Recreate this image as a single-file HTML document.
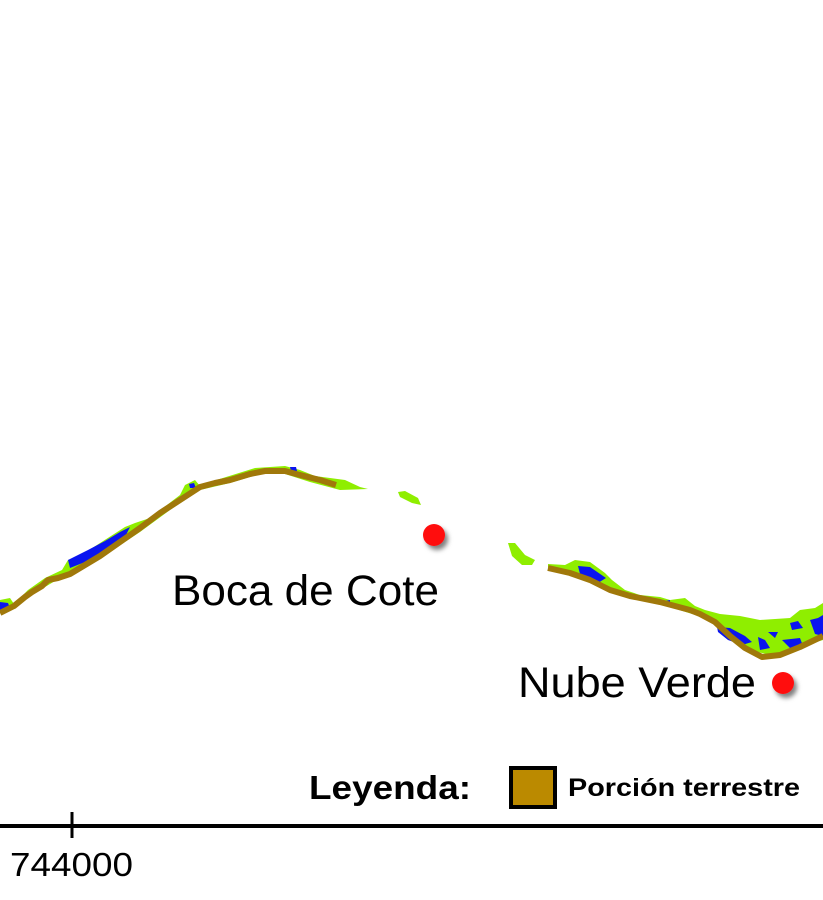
<!DOCTYPE html>
<html><head><meta charset="utf-8"><style>
html,body{margin:0;padding:0;background:#fff;}
svg{display:block;}
text{font-family:"Liberation Sans",sans-serif;}
</style></head><body>
<svg width="823" height="900" viewBox="0 0 823 900">
<defs><filter id="sh" x="-50%" y="-50%" width="200%" height="200%"><feDropShadow dx="3" dy="4" stdDeviation="2.5" flood-color="#000" flood-opacity="0.5"/></filter></defs>
<g>
<path fill="#8fee00" d="M0,600 L10,598 L14,604 L28,590 L45,578 L62,570 L68,560 L80,556 L100,543 L125,527 L135,523 L150,518 L180,495 L185,485 L195,480 L200,486 L210,482 L255,468 L285,466 L300,470 L315,476 L345,480 L360,487 L368,489 L340,490 L310,482 L285,474 L260,474 L230,483 L200,490 L170,510 L140,532 L110,552 L80,570 L60,578 L40,590 L20,600 L0,612 Z"/>
<path fill="#8fee00" d="M398,492 L405,491 L418,498 L421,505 L412,503 L400,497 Z"/>
<path fill="#0a14f0" d="M0,602 L8,603 L10,608 L0,612 Z M68,560 L88,550 L105,541 L120,532 L130,527 L125,537 L110,548 L90,560 L70,568 Z M189,484 L194,483 L196,488 L190,488 Z M290,467 L296,467 L297,471 L291,471 Z"/>
<polyline fill="none" stroke="#a0780a" stroke-width="6" stroke-linejoin="round" points="0,613 14,606 25,597 32,592 42,586 48,580 58,578 70,574 100,556 140,528 160,513 180,500 200,487 215,483 230,480 250,474 265,471 285,471 300,475 320,480 336,485"/>
</g>
<g>
<path fill="#8fee00" d="M508,543 L515,543 L525,555 L535,560 L532,565 L522,565 L512,556 Z M548,564 L565,565 L575,560 L590,562 L605,573 L612,580 L625,590 L640,595 L660,597 L670,600 L685,598 L695,606 L705,610 L720,614 L740,616 L760,620 L790,618 L800,610 L815,608 L823,603 L823,640 L790,650 L770,655 L750,650 L730,635 L705,618 L660,604 L625,595 L590,580 L560,570 L548,568 Z"/>
<path fill="#0a14f0" d="M578,566 L590,567 L606,578 L598,583 L590,578 L580,574 Z M665,601 L670,600 L670,604 L665,603 Z M717,627 L730,628 L745,636 L752,642 L742,645 L728,640 L718,632 Z M758,637 L765,640 L770,648 L760,650 Z M768,632 L778,632 L775,638 Z M790,623 L798,621 L803,628 L792,630 Z M782,640 L800,638 L803,646 L790,648 Z M810,620 L818,618 L823,615 L823,636 L815,634 Z"/>
<polyline fill="none" stroke="#a0780a" stroke-width="6" stroke-linejoin="round" points="548,568 570,573 590,580 610,590 630,596 660,602 690,610 700,614 715,622 730,636 745,648 762,657 780,655 800,647 823,636"/>
</g>
<circle cx="434" cy="535" r="11" fill="#ff1010" filter="url(#sh)"/>
<circle cx="783" cy="683" r="11" fill="#ff1010" filter="url(#sh)"/>
<text x="172" y="605" font-size="43" fill="#000" textLength="267" lengthAdjust="spacingAndGlyphs">Boca de Cote</text>
<text x="518" y="697" font-size="43" fill="#000" textLength="238" lengthAdjust="spacingAndGlyphs">Nube Verde</text>
<text x="309" y="799" font-size="33" font-weight="bold" fill="#000" textLength="162" lengthAdjust="spacingAndGlyphs">Leyenda:</text>
<rect x="511" y="768" width="44" height="39" fill="#bb8a00" stroke="#000" stroke-width="4"/>
<text x="568" y="796" font-size="25" font-weight="bold" fill="#000" textLength="232" lengthAdjust="spacingAndGlyphs">Porción terrestre</text>
<line x1="0" y1="826" x2="823" y2="826" stroke="#000" stroke-width="4"/>
<line x1="72" y1="812" x2="72" y2="838" stroke="#000" stroke-width="3"/>
<text x="10" y="876" font-size="33" fill="#000" textLength="123" lengthAdjust="spacingAndGlyphs">744000</text>
</svg>
</body></html>
